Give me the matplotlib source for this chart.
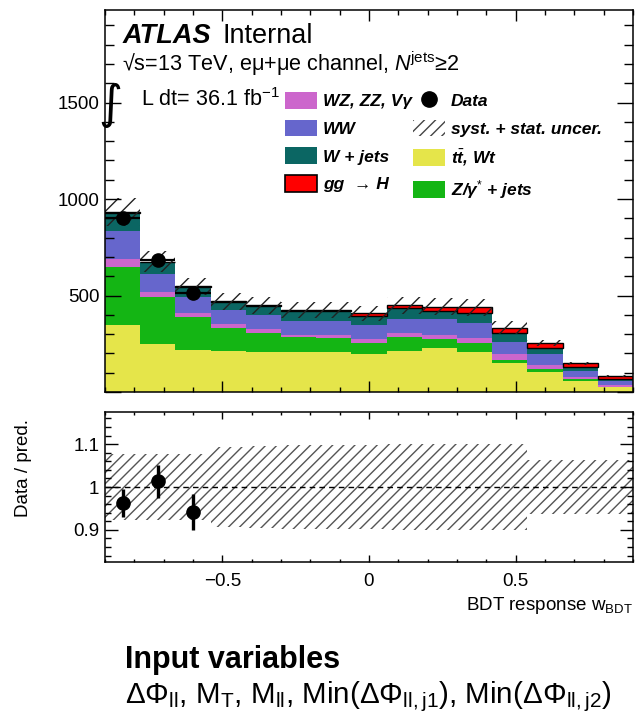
import numpy as np
import matplotlib
matplotlib.use("Agg")
import matplotlib.pyplot as plt
from matplotlib.patches import Patch
from matplotlib.lines import Line2D
from matplotlib.ticker import MultipleLocator, FixedLocator, FuncFormatter

plt.rcParams["font.family"] = ["Liberation Sans", "DejaVu Sans"]
plt.rcParams["mathtext.fontset"] = "custom"
plt.rcParams["mathtext.rm"] = "Liberation Sans"
plt.rcParams["mathtext.it"] = "Liberation Sans:bold:italic"
plt.rcParams["mathtext.sf"] = "Liberation Sans:italic"
plt.rcParams["mathtext.bf"] = "Liberation Sans:bold"
plt.rcParams["hatch.linewidth"] = 1.0

# ─── Data ─────────────────────────────────────────────────────────────────────
bin_edges = [-0.90, -0.78, -0.66, -0.54, -0.42, -0.30, -0.18, -0.06,
             0.06, 0.18, 0.30, 0.42, 0.54, 0.66, 0.78, 0.90]

ttbar = [347, 250, 218, 214, 209, 206, 205, 197, 214, 226, 209, 148, 105, 57, 24]
zjets = [302, 240, 169, 116, 95, 77, 77, 55, 72, 47, 46, 18, 12, 9, 4]
vv    = [40, 29, 24, 22, 20, 15, 15, 21, 21, 22, 23, 31, 23, 10, 8]
ww    = [146, 95, 79, 72, 77, 71, 72, 74, 69, 81, 81, 63, 57, 34, 21]
wjets = [95, 58, 53, 42, 43, 49, 49, 46, 57, 45, 48, 44, 29, 17, 12]
ggh   = [5, 4, 4, 5, 5, 6, 6, 14, 17, 21, 31, 29, 26, 21, 16]

# relative syst. + stat. uncertainty per bin
rel_unc = [0.078, 0.078, 0.078, 0.093, 0.095, 0.097, 0.098, 0.099,
           0.100, 0.100, 0.100, 0.100, 0.062, 0.062, 0.062]

# data (unblinded bins only)
data     = [900, 685, 515]
data_err = [30, 26, 23]

# ─── Stack definition (bottom → top) ─────────────────────────────────────────
components = [
    (ttbar, "#e5e54a"),
    (zjets, "#14b514"),
    (vv,    "#cc66cc"),
    (ww,    "#6666cc"),
    (wjets, "#0b6663"),
]

edges   = np.array(bin_edges)
left    = edges[:-1]
widths  = np.diff(edges)
centers = left + widths / 2

W, H = 635, 715
fig = plt.figure(figsize=(W / 100, H / 100), dpi=100)
ax  = fig.add_axes([105 / W, 1 - 392 / H, 528 / W, 382 / H])
axr = fig.add_axes([105 / W, 1 - 562 / H, 528 / W, 150 / H])

# ── main panel ────────────────────────────────────────────────────────────────
bottom = np.zeros(len(left))
for vals, color in components:
    ax.bar(left, vals, widths, bottom=bottom, align="edge", color=color, linewidth=0)
    bottom += np.array(vals)
ax.bar(left, ggh, widths, bottom=bottom, align="edge", color="#ff0000",
       edgecolor="black", linewidth=1.0)
total = bottom + np.array(ggh)

unc = total * np.array(rel_unc)
ax.bar(left, 2 * unc, widths, bottom=total - unc, align="edge", fill=False,
       hatch="//", edgecolor="#222222", linewidth=0)

nd = len(data)
ax.errorbar(centers[:nd], data, yerr=data_err, xerr=widths[:nd] / 2, fmt="o",
            color="black", ms=9.5, elinewidth=1.6, capsize=0, zorder=5)

ax.set_xlim(-0.9, 0.9)
ax.set_ylim(0, 1980)
ax.xaxis.set_major_locator(MultipleLocator(0.5))
ax.xaxis.set_minor_locator(MultipleLocator(0.1))
ax.yaxis.set_major_locator(MultipleLocator(500))
ax.yaxis.set_minor_locator(MultipleLocator(100))
ax.yaxis.set_major_formatter(FuncFormatter(lambda v, p: "" if v == 0 else f"{v:.0f}"))
ax.tick_params(which="both", direction="in", top=True, right=True, width=1,
               labelbottom=False, labelsize=13.5)
ax.tick_params(axis="y", which="major", length=11.5, pad=4)
ax.tick_params(axis="y", which="minor", length=6.5)
ax.tick_params(axis="x", which="major", length=8)
ax.tick_params(axis="x", which="minor", length=3.6)
for s in ax.spines.values():
    s.set_linewidth(1.1)

# legend
handles = [
    Patch(facecolor="#cc66cc", linewidth=0),
    Patch(facecolor="#6666cc", linewidth=0),
    Patch(facecolor="#0b6663", linewidth=0),
    Patch(facecolor="#ff0000", edgecolor="black", linewidth=1.2),
    Line2D([], [], marker="o", color="black", ls="none", ms=11),
    Patch(facecolor="white", hatch="///", edgecolor="#444444", linewidth=0),
    Patch(facecolor="#e5e54a", linewidth=0),
    Patch(facecolor="#14b514", linewidth=0),
]
labels = ["WZ, ZZ, Vγ", "WW", "W + jets", "gg  → H",
          "Data", "syst. + stat. uncer.", r"$t\bar{t}$, Wt", r"Z/γ$^{*}$ + jets"]
ax.legend(handles, labels, ncol=2, loc="upper left", bbox_to_anchor=(0.324, 0.808),
          frameon=False, borderpad=0, handlelength=1.85, handleheight=1.1,
          handletextpad=0.35, columnspacing=0.05, labelspacing=0.6,
          prop=dict(family=["Liberation Sans", "DejaVu Sans"], weight="bold",
                    style="italic", size=12.5))

# labels
def fx(x):
    return x / W

def fy(y):
    return 1 - y / H

fig.text(fx(123), fy(36), "ATLAS", fontsize=19.5, weight="bold", style="italic", va="center")
fig.text(fx(222), fy(36), "Internal", fontsize=19.5, va="center")
fig.text(fx(122), fy(64), r"√s=13 TeV, eμ+μe channel, $\mathsf{N}^{\mathrm{jets}}$≥2",
         fontsize=15.6, va="center")
fig.text(fx(110), fy(106), "∫", fontsize=33, va="center", ha="center",
         family="DejaVu Sans")
fig.text(fx(141), fy(100), r"L dt= 36.1 fb$^{-1}$", fontsize=15.5, va="center")

# ── ratio panel ───────────────────────────────────────────────────────────────
ru = np.array(rel_unc)
axr.bar(left, 2 * ru, widths, bottom=1 - ru, align="edge", fill=False,
        hatch="///", edgecolor="#555555", linewidth=0)
axr.axhline(1.0, color="black", ls="--", lw=1.0, dashes=(4, 3))
ratio = np.array(data) / total[:nd]
ratio_err = np.array(data_err) / total[:nd]
axr.errorbar(centers[:nd], ratio, yerr=ratio_err, fmt="o", color="black",
             ms=9.5, elinewidth=2.4, capsize=0, zorder=5)

axr.set_xlim(-0.9, 0.9)
axr.set_ylim(0.825, 1.175)
axr.xaxis.set_major_locator(MultipleLocator(0.5))
axr.xaxis.set_minor_locator(MultipleLocator(0.1))
axr.xaxis.set_major_formatter(FuncFormatter(
    lambda v, p: "0" if abs(v) < 1e-9 else f"{v:g}".replace("-", "\u2212")))
axr.yaxis.set_major_locator(FixedLocator([0.9, 1.0, 1.1]))
axr.yaxis.set_minor_locator(MultipleLocator(0.02))
axr.yaxis.set_major_formatter(FuncFormatter(lambda v, p: f"{v:g}"))
axr.tick_params(which="both", direction="in", top=True, right=True, width=1,
                labelsize=13.5)
axr.tick_params(axis="y", which="major", length=9.5, pad=4)
axr.tick_params(axis="y", which="minor", length=4.5)
axr.tick_params(axis="x", which="major", length=5, pad=8)
axr.tick_params(axis="x", which="minor", length=2.5)
for s in axr.spines.values():
    s.set_linewidth(1.1)

fig.text(fx(24), fy(468), "Data / pred.", rotation=90, fontsize=13.5,
         va="center", ha="center")
fig.text(fx(633), fy(606), r"BDT response w$_{\mathrm{BDT}}$", fontsize=13.5,
         ha="right", va="center")

fig.text(fx(125), fy(660), "Input variables", fontsize=22, weight="bold", va="center")
fig.text(fx(125), fy(697),
         r"ΔΦ$_{\mathrm{ll}}$, M$_{\mathrm{T}}$, M$_{\mathrm{ll}}$, "
         r"Min(ΔΦ$_{\mathrm{ll,j1}}$), Min(ΔΦ$_{\mathrm{ll,j2}}$)",
         fontsize=21.3, va="center")

fig.savefig("out.png", dpi=100)
